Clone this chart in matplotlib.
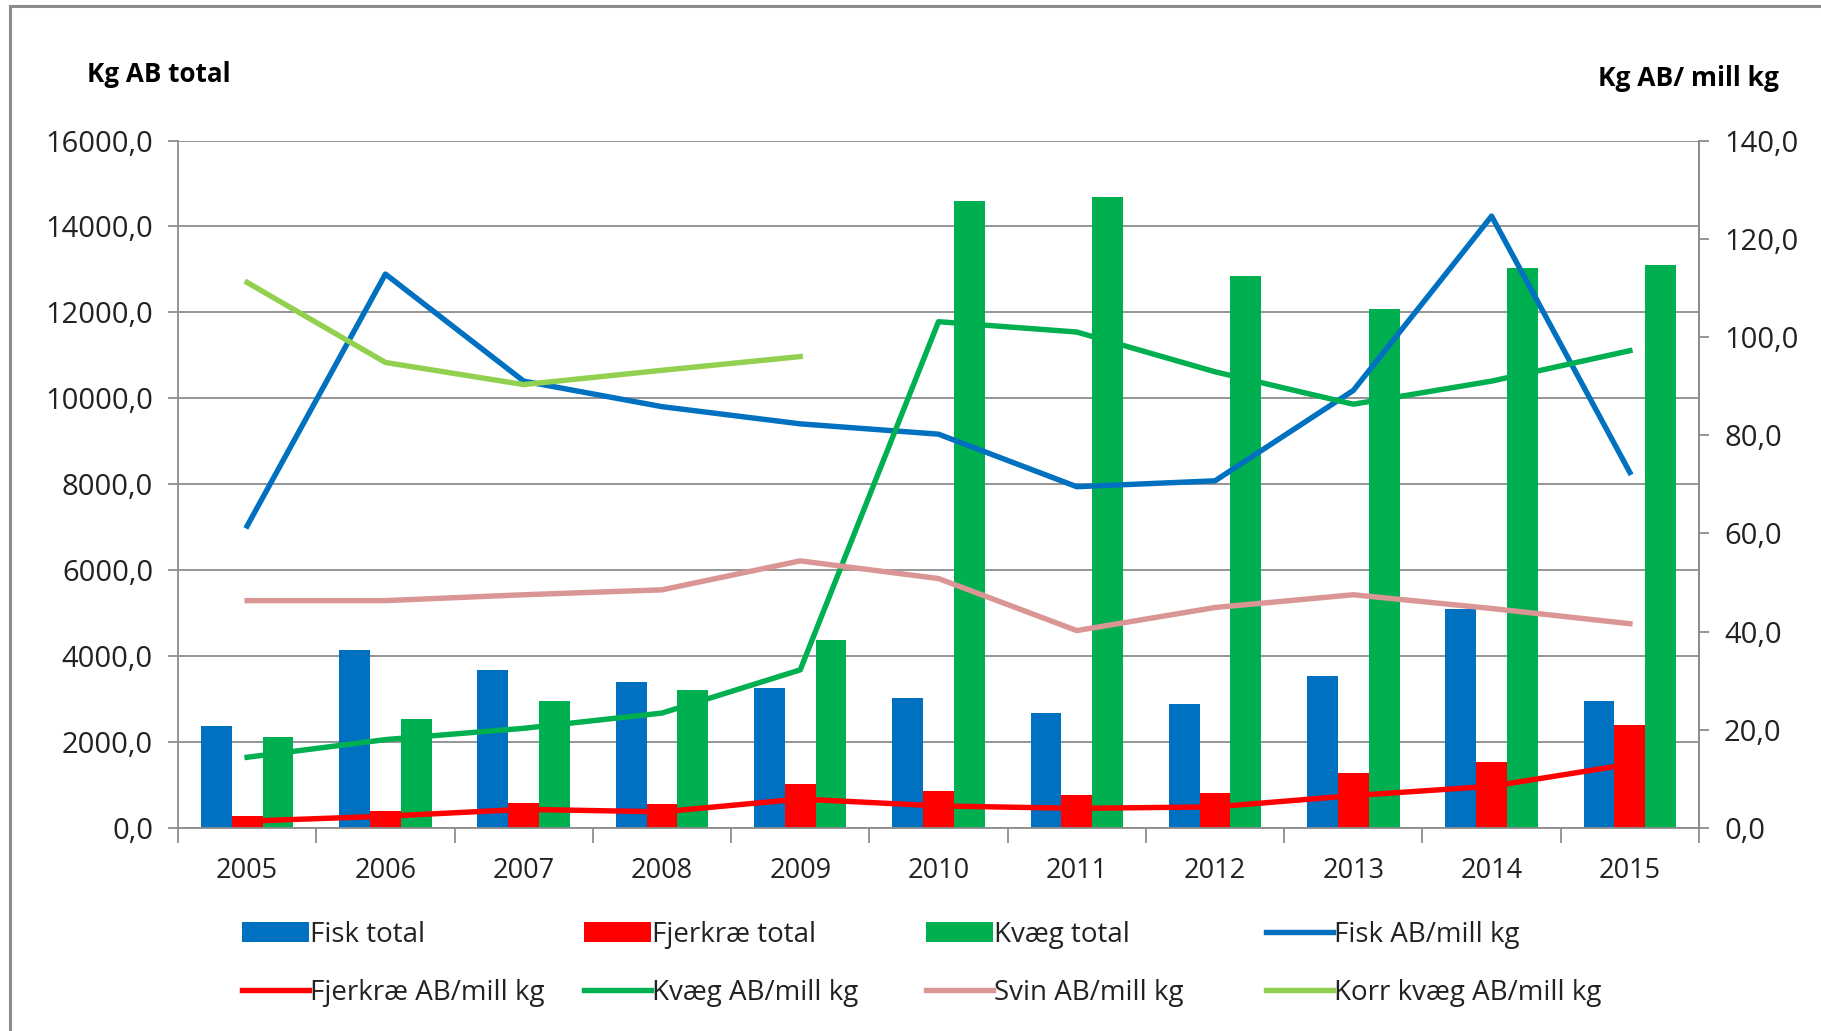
import numpy as np
import matplotlib
matplotlib.use("Agg")
import matplotlib.pyplot as plt
from matplotlib.lines import Line2D

years = ["2005", "2006", "2007", "2008", "2009", "2010", "2011", "2012", "2013", "2014", "2015"]

fisk_total = [2380, 4140, 3680, 3400, 3250, 3030, 2680, 2890, 3540, 5100, 2950]
fjerkrae_total = [270, 400, 590, 560, 1030, 860, 760, 810, 1270, 1540, 2400]
kvaeg_total = [2110, 2540, 2950, 3220, 4380, 14600, 14680, 12840, 12080, 13030, 13110]

fisk_ab = [61.5, 112.8, 91.0, 85.8, 82.3, 80.2, 69.5, 70.7, 89.1, 124.6, 72.4]
fjerkrae_ab = [1.4, 2.4, 3.8, 3.3, 5.9, 4.5, 4.0, 4.3, 6.6, 8.5, 13.0]
kvaeg_ab = [14.4, 18.0, 20.3, 23.4, 32.2, 103.1, 101.0, 92.9, 86.3, 91.0, 97.2]
svin_ab = [46.3, 46.3, 47.5, 48.5, 54.4, 50.8, 40.2, 44.9, 47.5, 44.7, 41.6]
korr_kvaeg_ab = [111.1, 94.8, 90.3, 93.2, 96.0, None, None, None, None, None, None]

left_ticks = [0, 2000, 4000, 6000, 8000, 10000, 12000, 14000, 16000]
right_ticks = [0, 20, 40, 60, 80, 100, 120, 140]

C_BLUE = "#0070C0"
C_RED = "#FF0000"
C_GREEN = "#00B050"
C_PINK = "#D99694"
C_LGREEN = "#92D050"
GRID = "#8C8C8C"

plt.rcParams['font.family'] = ['Open Sans', 'DejaVu Sans']

W, H = 1821, 1031
fig = plt.figure(figsize=(W / 100, H / 100), dpi=100)
ax = fig.add_axes([178 / W, 1 - 828 / H, (1699 - 178) / W, (828 - 140.5) / H])

x = np.arange(len(years))
bw = 0.223
ax.bar(x - bw, fisk_total, bw, color=C_BLUE, zorder=2, label="Fisk total")
ax.bar(x, fjerkrae_total, bw, color=C_RED, zorder=2, label="Fjerkræ total")
ax.bar(x + bw, kvaeg_total, bw, color=C_GREEN, zorder=2, label="Kvæg total")

ax.set_xlim(-0.5, len(years) - 0.5)
ax.set_ylim(0, 16000)
ax.set_yticks(left_ticks)
ax.set_yticklabels([f"{v:.1f}".replace(".", ",") for v in left_ticks])
ax.yaxis.grid(True, color=GRID, linewidth=1.3, zorder=0)
ax.set_axisbelow(True)

ax.set_xticks(x)
ax.set_xticklabels(years)
ax.set_xticks(np.arange(-0.5, len(years) + 0.5, 1), minor=True)
ax.tick_params(axis='x', which='major', length=0, pad=21, labelsize=19.5, colors='#222222')
ax.tick_params(axis='x', which='minor', length=11, width=1.3, color=GRID, direction='out')
ax.tick_params(axis='y', length=7, width=1.3, color=GRID, labelsize=21, pad=11, labelcolor='#222222')

ax.spines['top'].set_visible(False)
for s in ['left', 'bottom', 'right']:
    ax.spines[s].set_color(GRID)
    ax.spines[s].set_linewidth(1.3)

ax2 = ax.twinx()
lw = 3.9
ax2.plot(x, fisk_ab, color=C_BLUE, lw=lw, label="Fisk AB/mill kg")
ax2.plot(x, fjerkrae_ab, color=C_RED, lw=lw, label="Fjerkræ AB/mill kg")
ax2.plot(x, kvaeg_ab, color=C_GREEN, lw=lw, label="Kvæg AB/mill kg")
ax2.plot(x, svin_ab, color=C_PINK, lw=lw, label="Svin AB/mill kg")
korr = np.array([np.nan if v is None else v for v in korr_kvaeg_ab], dtype=float)
ax2.plot(x, korr, color=C_LGREEN, lw=lw, label="Korr kvæg AB/mill kg")
ax2.set_ylim(0, 140)
ax2.set_yticks(right_ticks)
ax2.set_yticklabels([f"{v:.1f}".replace(".", ",") for v in right_ticks])
ax2.tick_params(axis='y', length=7, width=1.3, color=GRID, labelsize=21, pad=11, labelcolor='#222222')
for s in ['top', 'left', 'bottom']:
    ax2.spines[s].set_visible(False)
ax2.spines['right'].set_color(GRID)
ax2.spines['right'].set_linewidth(1.3)

fig.text(87 / W, 1 - 75 / H, "Kg AB total", fontsize=18.7, fontweight='bold', va='center', ha='left')
fig.text(1779 / W, 1 - 79 / H, "Kg AB/ mill kg", fontsize=19, fontweight='bold', va='center', ha='right')

h1, l1 = ax.get_legend_handles_labels()
h2, l2 = ax2.get_legend_handles_labels()
hs = h1 + h2
ls = l1 + l2
col_x = [242, 584, 926, 1266]
for c in range(4):
    idx = [c, c + 4]
    leg = fig.legend([hs[i] for i in idx], [ls[i] for i in idx],
                     loc='center left', bbox_to_anchor=(col_x[c] / W, 1 - 964 / H),
                     frameon=False, fontsize=20, handlelength=2.4, handletextpad=0.05,
                     labelspacing=1.08, handleheight=0.72, borderpad=0, borderaxespad=0)
    for t in leg.get_texts():
        t.set_color('#222222')

# outer border
fig.add_artist(Line2D([10 / W, 10 / W], [0, 1 - 6 / H], color='#8C8C8C', lw=2.2, transform=fig.transFigure))
fig.add_artist(Line2D([10 / W, 1], [1 - 6 / H, 1 - 6 / H], color='#8C8C8C', lw=2.2, transform=fig.transFigure))

fig.savefig("out.png", dpi=100)
